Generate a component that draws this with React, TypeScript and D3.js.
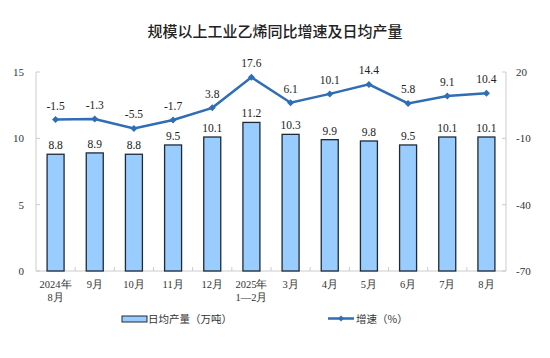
import React from "react";
import * as d3 from "d3";

const categories = ["2024年\n8月", "9月", "10月", "11月", "12月", "2025年\n1—2月", "3月", "4月", "5月", "6月", "7月", "8月"];
const dailyOutput = [8.8, 8.9, 8.8, 9.5, 10.1, 11.2, 10.3, 9.9, 9.8, 9.5, 10.1, 10.1];
const growth = [-1.5, -1.3, -5.5, -1.7, 3.8, 17.6, 6.1, 10.1, 14.4, 5.8, 9.1, 10.4];
const leftTicks = [0, 5, 10, 15];
const rightTicks = [-70, -40, -10, 20];

export default function App() {
  const W = 550, H = 358;
  const left = 36, right = 506, top = 72, bottom = 271;
  const x = d3.scaleBand<string>().domain(categories).range([left, right]).paddingInner(0.566).paddingOuter(0.283);
  const band = d3.scaleBand<string>().domain(categories).range([left, right]);
  const yL = d3.scaleLinear().domain([0, 15]).range([bottom, top]);
  const yR = d3.scaleLinear().domain([-70, 20]).range([bottom, top]);
  const cx = (c: string) => (x(c) as number) + x.bandwidth() / 2;
  const line = d3.line<number>().x((_, i) => cx(categories[i])).y(d => yR(d));
  const serif = "'Liberation Serif', 'Times New Roman', serif";
  const cjk = "'Noto Sans CJK SC', sans-serif";
  const lineColor = "#2F6DB5";
  const diamond = (px: number, py: number, r = 3.5) => `M${px},${py - r}L${px + r},${py}L${px},${py + r}L${px - r},${py}Z`;
  return (
    <svg width={W} height={H} style={{ position: "absolute", left: 0, top: 0, background: "#fff" }}>
      <text x={275} y={37} textAnchor="middle" fontFamily={cjk} fontSize={15} fontWeight={500} fill="#222">规模以上工业乙烯同比增速及日均产量</text>
      {/* axes */}
      <line x1={left} x2={left} y1={top} y2={bottom} stroke="#ccc" />
      <line x1={right} x2={right} y1={top} y2={bottom} stroke="#ccc" />
      <line x1={left} x2={right} y1={bottom} y2={bottom} stroke="#ccc" />
      {leftTicks.map(t => (
        <g key={"l" + t}>
          <line x1={left} x2={left + 4} y1={yL(t)} y2={yL(t)} stroke="#ccc" />
          <text x={24} y={yL(t) + 4} textAnchor="end" fontFamily={serif} fontSize={11} fill="#333">{t}</text>
        </g>
      ))}
      {rightTicks.map(t => (
        <g key={"r" + t}>
          <line x1={right - 4} x2={right} y1={yR(t)} y2={yR(t)} stroke="#ccc" />
          <text x={516} y={yR(t) + 4} textAnchor="start" fontFamily={serif} fontSize={11} fill="#333">{t}</text>
        </g>
      ))}
      {categories.map((c, i) => i > 0 ? (
        <line key={"t" + i} x1={band(c) as number} x2={band(c) as number} y1={bottom} y2={bottom - 4} stroke="#ccc" />
      ) : null)}
      {/* bars */}
      {categories.map((c, i) => (
        <g key={"b" + i}>
          <rect x={x(c)} y={yL(dailyOutput[i])} width={x.bandwidth()} height={bottom - yL(dailyOutput[i])} fill="#99CCFF" stroke="#1f2a36" strokeWidth={1.3} />
          <text x={cx(c)} y={yL(dailyOutput[i]) - 5} textAnchor="middle" fontFamily={serif} fontSize={11.5} fill="#222">{dailyOutput[i]}</text>
        </g>
      ))}
      {/* line */}
      <path d={line(growth) || ""} fill="none" stroke={lineColor} strokeWidth={2.5} />
      {growth.map((v, i) => (
        <g key={"p" + i}>
          <path d={diamond(cx(categories[i]), yR(v))} fill={lineColor} />
          <text x={cx(categories[i])} y={yR(v) - 10} textAnchor="middle" fontFamily={serif} fontSize={11.5} fill="#222">{v}</text>
        </g>
      ))}
      {/* x labels */}
      {categories.map((c, i) => c.split("\n").map((s, j) => (
        <text key={"x" + i + j} x={cx(c)} y={288 + j * 13} textAnchor="middle" fontFamily={serif} fontSize={10.5} fill="#333">{s}</text>
      )))}
      {/* legend */}
      <rect x={122} y={316} width={25} height={6} fill="#99CCFF" stroke="#1f2a36" strokeWidth={1} />
      <text x={148} y={323} fontFamily={cjk} fontSize={10.5} fill="#333">日均产量（万吨）</text>
      <line x1={328} x2={354} y1={318.5} y2={318.5} stroke={lineColor} strokeWidth={2.5} />
      <path d={diamond(341, 318.5, 3)} fill={lineColor} />
      <text x={356} y={323} fontFamily={cjk} fontSize={10.5} fill="#333">增速（%）</text>
    </svg>
  );
}
